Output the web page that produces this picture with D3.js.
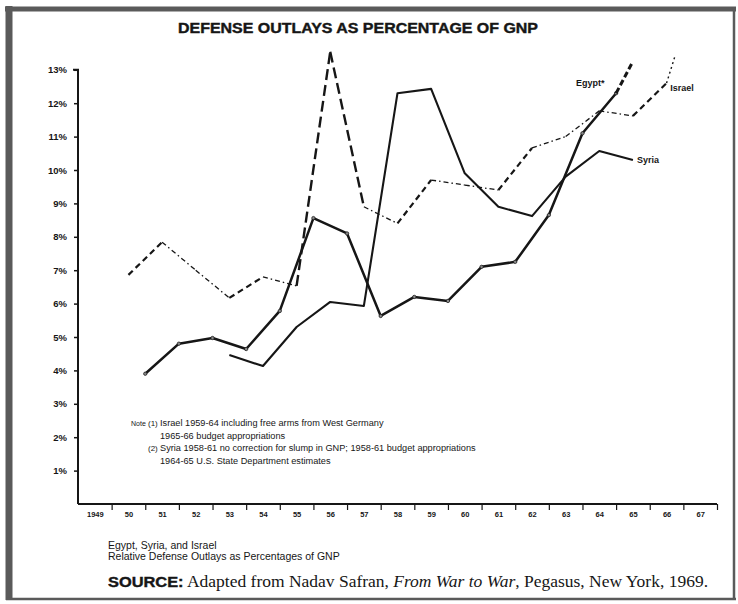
<!DOCTYPE html>
<html>
<head>
<meta charset="utf-8">
<script src="https://cdn.jsdelivr.net/npm/d3@7"></script>
<style>
  html, body { margin: 0; padding: 0; background: #fff; }
  svg { display: block; }
</style>
</head>
<body>
<svg id="chart" width="738" height="604"></svg>
<script>
// ---------------- DATA ----------------
const yearLabels = ["1949","50","51","52","53","54","55","56","57","58","59","60","61","62","63","64","65","66","67"];
const labelYears = [1949,1950,1951,1952,1953,1954,1955,1956,1957,1958,1959,1960,1961,1962,1963,1964,1965,1966,1967];
const yTickValues = [1,2,3,4,5,6,7,8,9,10,11,12,13];

// Egypt (fiscal years, plotted between calendar-year labels)
const egyptYears  = [1950.5,1951.5,1952.5,1953.5,1954.5,1955.5,1956.5,1957.5,1958.5,1959.5,1960.5,1961.5,1962.5,1963.5,1964.5];
const egyptValues = [3.9,4.8,4.97,4.64,5.78,8.56,8.1,5.63,6.2,6.08,7.1,7.25,8.65,11.1,12.3];
// Egypt projection (dashed)
const egyptProjYears  = [1964.5,1965.0];
const egyptProjValues = [12.3,13.25];

// Syria
const syriaYears  = [1953,1954,1955,1956,1957,1958,1959,1960,1961,1962,1963,1964,1965];
const syriaValues = [4.46,4.13,5.3,6.05,5.93,12.3,12.43,9.9,8.9,8.62,9.8,10.57,10.3];

// Israel
const israelYears  = [1950,1951,1952,1953,1954,1955,1956,1957,1958,1959,1960,1961,1962,1963,1964,1965,1966,1966.26];
const israelValues = [6.86,7.84,7.0,6.17,6.8,6.53,13.54,8.9,8.4,9.7,9.55,9.4,10.66,11.0,11.77,11.62,12.6,13.44];
// line style of each Israel segment (between consecutive points)
const israelSegStyle = ["dash","dashdot","dashdot","dash","dashdot","long","long","dashdot","dash","dashdot","dashdot","dash","dashdot","dashdot","dashdot","dash","dot"];

const seriesLabels = [
  {name:"Egypt*", year:1964.5, value:12.6, dx:-40},
  {name:"Israel", year:1966.2, value:12.45, dx:-3},
  {name:"Syria", year:1965.0, value:10.3, dx:4}
];

const noteLines = [
  {tag:"Note", num:"(1)", text:"Israel 1959-64 including free arms from West Germany"},
  {tag:"", num:"", text:"1965-66 budget appropriations"},
  {tag:"", num:"(2)", text:"Syria 1958-61 no correction for slump in GNP; 1958-61 budget appropriations"},
  {tag:"", num:"", text:"1964-65 U.S. State Department estimates"}
];

const titleText = "DEFENSE OUTLAYS AS PERCENTAGE OF GNP";
const captionLines = ["Egypt, Syria, and Israel", "Relative Defense Outlays as Percentages of GNP"];

// ---------------- DRAW ----------------
const svg = d3.select("#chart");
const ink = "#161616";

svg.append("rect").attr("x",0).attr("y",0).attr("width",738).attr("height",604).attr("fill","#fff");
// scanned page frame
const frame = svg.append("g").attr("stroke","#5a5a5a").attr("fill","none");
frame.append("line").attr("x1",9).attr("x2",9).attr("y1",6).attr("y2",600).attr("stroke-width",7);
frame.append("line").attr("x1",5).attr("x2",736).attr("y1",9).attr("y2",9).attr("stroke-width",5);
frame.append("line").attr("x1",734).attr("x2",734).attr("y1",7).attr("y2",600).attr("stroke-width",2.5);
frame.append("line").attr("x1",6).attr("x2",736).attr("y1",599).attr("y2",599).attr("stroke-width",2.5);

const x = d3.scaleLinear().domain([1948.5, 1967.5]).range([78, 717]);
const y = d3.scaleLinear().domain([0, 13]).range([504, 69.8]);

// title
svg.append("text").attr("x", 358).attr("y", 32.5).attr("text-anchor","middle")
  .attr("font-family","Liberation Sans, Arial, sans-serif").attr("font-weight","900")
  .attr("font-size", 14).attr("fill", ink)
  .attr("textLength", 360).attr("lengthAdjust", "spacingAndGlyphs")
  .attr("stroke", ink).attr("stroke-width", 0.4)
  .text(titleText);

// y axis
const yAxis = d3.axisLeft(y).tickValues(yTickValues).tickSize(4).tickPadding(7)
  .tickFormat(d => d + "%");
const gy = svg.append("g").attr("transform", `translate(${x(1948.5)},0)`).call(yAxis);
gy.select(".domain").attr("d", `M-5,${y(13)}H0V${y(0)}`).attr("stroke", ink).attr("stroke-width", 2);
gy.selectAll(".tick line").attr("stroke", ink).attr("stroke-width", 1.5);
gy.selectAll(".tick text").attr("font-family","Liberation Sans, Arial, sans-serif")
  .attr("font-weight","bold").attr("font-size", 9.5).attr("fill", ink);

// x axis: boundary ticks
const boundaries = d3.range(1949.5, 1967.6, 1);
const xAxisTicks = d3.axisBottom(x).tickValues(boundaries).tickSize(6).tickFormat("");
const gx = svg.append("g").attr("transform", `translate(0,${y(0)})`).call(xAxisTicks);
gx.select(".domain").attr("d", `M${x(1948.5)},0H${x(1967.5)}`).attr("stroke", ink).attr("stroke-width", 2);
gx.selectAll(".tick line").attr("stroke", ink).attr("stroke-width", 1.2);

// x axis: labels at year centers
const xAxisLabels = d3.axisBottom(x).tickValues(labelYears).tickSize(0).tickPadding(8)
  .tickFormat((d,i) => yearLabels[i]);
const gxl = svg.append("g").attr("transform", `translate(0,${y(0)})`).call(xAxisLabels);
gxl.select(".domain").remove();
gxl.selectAll(".tick text").attr("font-family","Liberation Sans Narrow, Liberation Sans, Arial, sans-serif")
  .attr("font-weight","bold").attr("font-size", 7.5).attr("fill", ink);

// line generator
const line = d3.line().x(d => x(d[0])).y(d => y(d[1]));

// Egypt
const egyptPts = egyptYears.map((yr,i) => [yr, egyptValues[i]]);
svg.append("path").attr("d", line(egyptPts)).attr("fill","none")
  .attr("stroke", ink).attr("stroke-width", 2.5).attr("stroke-linejoin","round");
svg.append("g").selectAll("circle").data(egyptPts).join("circle")
  .attr("cx", d => x(d[0])).attr("cy", d => y(d[1])).attr("r", 1.7)
  .attr("fill", "#888").attr("stroke", ink).attr("stroke-width", 0.7);
const egyptProj = egyptProjYears.map((yr,i) => [yr, egyptProjValues[i]]);
svg.append("path").attr("d", line(egyptProj)).attr("fill","none")
  .attr("stroke", ink).attr("stroke-width", 3).attr("stroke-dasharray","6,3");

// Syria
const syriaPts = syriaYears.map((yr,i) => [yr, syriaValues[i]]);
svg.append("path").attr("d", line(syriaPts)).attr("fill","none")
  .attr("stroke", ink).attr("stroke-width", 2.1).attr("stroke-linejoin","round");

// Israel (segments with varying dash styles)
const styleMap = {
  dash:    {w: 2.2, dash: "6,4"},
  long:    {w: 2.4, dash: "11,5"},
  dashdot: {w: 1.3, dash: "5,3,1.5,3"},
  dot:     {w: 1.4, dash: "2,3"}
};
const israelPts = israelYears.map((yr,i) => [yr, israelValues[i]]);
const israelSegs = d3.pairs(israelPts).map((p,i) => ({pts: p, style: styleMap[israelSegStyle[i]]}));
svg.append("g").selectAll("path").data(israelSegs).join("path")
  .attr("d", d => line(d.pts)).attr("fill","none").attr("stroke", ink)
  .attr("stroke-width", d => d.style.w).attr("stroke-dasharray", d => d.style.dash);

// series labels
svg.append("g").selectAll("text").data(seriesLabels).join("text")
  .attr("x", d => x(d.year)).attr("y", d => y(d.value) + 3)
  .attr("dx", d => d.dx)
  .attr("font-family","Liberation Sans Narrow, Liberation Sans, Arial, sans-serif")
  .attr("font-weight","bold").attr("font-size", 9).attr("fill", ink)
  .text(d => d.name);

// notes
const notesG = svg.append("g").attr("font-family","Liberation Sans Narrow, Liberation Sans, Arial, sans-serif")
  .attr("fill", ink);
noteLines.forEach((n,i) => {
  const yy = 426 + i * 12.6;
  if (n.tag) notesG.append("text").attr("x", 131).attr("y", yy).attr("font-size", 7).text(n.tag);
  if (n.num) notesG.append("text").attr("x", 148).attr("y", yy).attr("font-size", 8).text(n.num);
  notesG.append("text").attr("x", 160).attr("y", yy).attr("font-size", 9.2).text(n.text);
});

// caption
const capG = svg.append("g").attr("font-family","Liberation Sans Narrow, Liberation Sans, Arial, sans-serif")
  .attr("font-size", 10.5).attr("fill", ink);
captionLines.forEach((t,i) => {
  capG.append("text").attr("x", 108).attr("y", 549 + i * 11).text(t);
});

// source line
const src = svg.append("text").attr("x", 108).attr("y", 587).attr("fill", ink)
  .attr("textLength", 600).attr("lengthAdjust", "spacingAndGlyphs");
src.append("tspan").attr("font-family","Liberation Sans, Arial, sans-serif").attr("font-weight","900")
  .attr("font-size", 15).attr("stroke", ink).attr("stroke-width", 0.4).text("SOURCE:");
src.append("tspan").attr("font-family","Liberation Serif, Times New Roman, serif")
  .attr("font-size", 16).text("  Adapted from Nadav Safran, ");
src.append("tspan").attr("font-family","Liberation Serif, Times New Roman, serif")
  .attr("font-size", 16).attr("font-style","italic").text("From War to War");
src.append("tspan").attr("font-family","Liberation Serif, Times New Roman, serif")
  .attr("font-size", 16).text(", Pegasus, New York, 1969.");
</script>
</body>
</html>
